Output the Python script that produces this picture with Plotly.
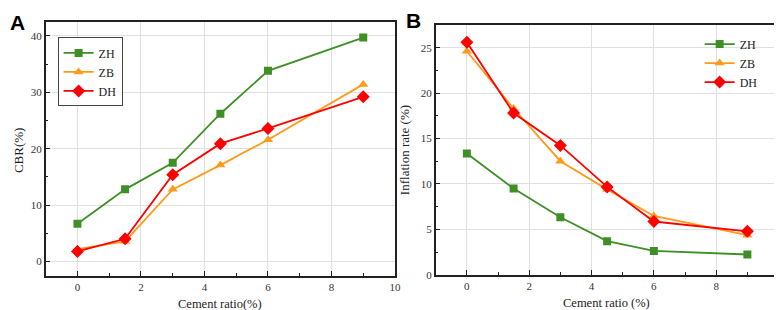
import plotly.graph_objects as go

cement = [0, 1.5, 3, 4.5, 6, 9]
series_names = ["ZH", "ZB", "DH"]

cbr_zh = [6.7, 12.8, 17.5, 26.2, 33.8, 39.7]
cbr_zb = [2.2, 3.6, 12.8, 17.1, 21.6, 31.4]
cbr_dh = [1.8, 4.05, 15.4, 20.9, 23.6, 29.2]

inf_zh = [13.35, 9.5, 6.33, 3.7, 2.62, 2.23]
inf_zb = [24.6, 18.3, 12.5, 9.4, 6.47, 4.35]
inf_dh = [25.6, 17.8, 14.24, 9.67, 5.86, 4.78]

x_ticks = [0, 2, 4, 6, 8, 10]
cbr_ticks = [0, 10, 20, 30, 40]
inf_ticks = [0, 5, 10, 15, 20, 25]

colors = {"ZH": "#3f8f27", "ZB": "#ff9a1a", "DH": "#ff0000"}
symbols = {"ZH": "square", "ZB": "triangle-up", "DH": "diamond"}
msize = {"ZH": 8, "ZB": 9, "DH": 10}

W, H = 782, 310
fig = go.Figure()

serif = "Liberation Serif, Times New Roman, serif"

for name, ys in zip(series_names, [cbr_zh, cbr_zb, cbr_dh]):
    fig.add_trace(go.Scatter(
        x=cement, y=ys, name=name, mode="lines+markers",
        line=dict(color=colors[name], width=1.8),
        marker=dict(symbol=symbols[name], size=msize[name], color=colors[name]),
        xaxis="x", yaxis="y", legend="legend"))

for name, ys in zip(series_names, [inf_zh, inf_zb, inf_dh]):
    fig.add_trace(go.Scatter(
        x=cement, y=ys, name=name, mode="lines+markers",
        line=dict(color=colors[name], width=1.8),
        marker=dict(symbol=symbols[name], size=msize[name], color=colors[name]),
        xaxis="x2", yaxis="y2", legend="legend2"))

def xax(domain, anchor):
    return dict(domain=domain, anchor=anchor, range=[-1, 10], tickvals=x_ticks,
                ticks="inside", ticklen=5, tickwidth=1.2, tickcolor="#222",
                minor=dict(tickvals=[1, 3, 5, 7, 9], ticks="inside", ticklen=3, tickcolor="#222", showgrid=False),
                showline=True, linecolor="#222", linewidth=1.5, mirror=True,
                showgrid=True, gridcolor="#e0e0e0", gridwidth=1, zeroline=False,
                tickfont=dict(family=serif, size=11, color="#333"))

def yax(domain, anchor, rng, tv, mv):
    return dict(domain=domain, anchor=anchor, range=rng, tickvals=tv,
                ticks="inside", ticklen=5, tickwidth=1.2, tickcolor="#222",
                minor=dict(tickvals=mv, ticks="inside", ticklen=3, tickcolor="#222", showgrid=False),
                showline=True, linecolor="#222", linewidth=1.5, mirror=True,
                showgrid=True, gridcolor="#e0e0e0", gridwidth=1, zeroline=False,
                tickfont=dict(family=serif, size=11, color="#333"))

fig.update_layout(
    width=W, height=H, margin=dict(l=0, r=0, t=0, b=0),
    paper_bgcolor="white", plot_bgcolor="white",
    xaxis=xax([38 / W, 390 / W], "y"),
    yaxis=yax([(H - 273) / H, (H - 14) / H], "x", [-2.5, 42.5], cbr_ticks, [5, 15, 25, 35]),
    xaxis2=xax([431 / W, 776.5 / W], "y2"),
    yaxis2=yax([(H - 272) / H, (H - 17.3) / H], "x2", [0, 27.5], inf_ticks, [2.5, 7.5, 12.5, 17.5, 22.5]),
    legend=dict(x=50 / W, y=(H - 30) / H, xanchor="left", yanchor="top",
                bordercolor="#444", borderwidth=1, bgcolor="white",
                font=dict(family=serif, size=12, color="#222"),
                tracegroupgap=0, itemwidth=30),
    legend2=dict(x=697 / W, y=(H - 22) / H, xanchor="left", yanchor="top",
                 borderwidth=0, bgcolor="rgba(0,0,0,0)",
                 font=dict(family=serif, size=12, color="#222"),
                 tracegroupgap=0, itemwidth=30),
    showlegend=True,
)

ann = [
    dict(text="<b>A</b>", x=0, y=H - 1, xanchor="left", yanchor="top",
         font=dict(family="Liberation Sans, Arial, sans-serif", size=21, color="black")),
    dict(text="<b>B</b>", x=399, y=H + 1, xanchor="left", yanchor="top",
         font=dict(family="Liberation Sans, Arial, sans-serif", size=21, color="black")),
    dict(text="Cement ratio(%)", x=214, y=H - 301.5, xanchor="center", yanchor="middle",
         font=dict(family=serif, size=12.5, color="#222")),
    dict(text="Cement ratio (%)", x=603, y=H - 300.5, xanchor="center", yanchor="middle",
         font=dict(family=serif, size=12.5, color="#222")),
    dict(text="CBR(%)", x=10, y=H - 145, xanchor="center", yanchor="middle", textangle=-90,
         font=dict(family=serif, size=13, color="#222")),
    dict(text="Inflation rate (%)", x=399, y=H - 145, xanchor="center", yanchor="middle", textangle=-90,
         font=dict(family=serif, size=13, color="#222")),
]
for a in ann:
    a["x"] = a["x"] / W
    a["y"] = a["y"] / H
    a["xref"] = "paper"
    a["yref"] = "paper"
    a["showarrow"] = False
fig.update_layout(annotations=ann)

fig.write_html("out.html")
